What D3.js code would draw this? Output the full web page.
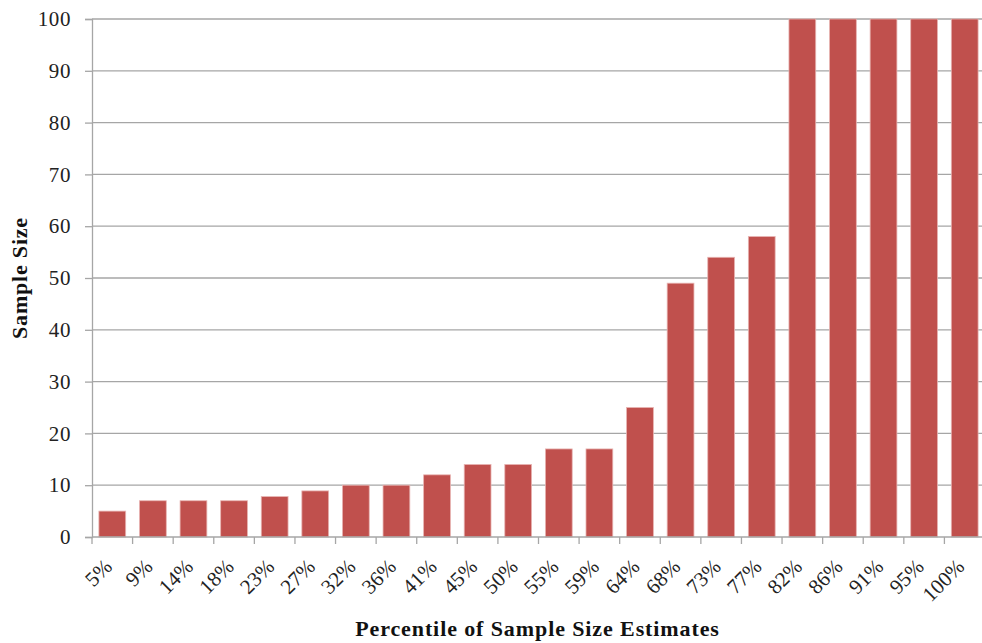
<!DOCTYPE html>
<html><head><meta charset="utf-8">
<script src="https://cdn.jsdelivr.net/npm/d3@7"></script>
<style>
html,body{margin:0;padding:0;background:#fff;}
svg{display:block;}
</style></head>
<body>
<svg id="chart" width="982" height="643"></svg>
<script>
const categories = ["5%","9%","14%","18%","23%","27%","32%","36%","41%","45%","50%","55%","59%","64%","68%","73%","77%","82%","86%","91%","95%","100%"];
const values = [5,7,7,7,7.8,8.9,10,10,12,14,14,17,17,25,49,54,58,100,100,100,100,100];
const yTicks = [0,10,20,30,40,50,60,70,80,90,100];

(function(){
const svg = d3.select("#chart");
const mLeft = 92, mRight = 985, mTop = 19, mBottom = 537;
const font = "'Palatino Linotype','Book Antiqua',Palatino,'Liberation Serif','DejaVu Serif',serif";

const x = d3.scaleBand().domain(categories).range([mLeft, mRight]).paddingInner(0.34).paddingOuter(0.17);
const y = d3.scaleLinear().domain([0,100]).range([mBottom, mTop]);

svg.append("g").selectAll("line").data(yTicks.filter(d=>d>0)).join("line")
  .attr("x1", mLeft).attr("x2", mRight)
  .attr("y1", d=>y(d)).attr("y2", d=>y(d))
  .attr("stroke", "#a6a6a6").attr("stroke-width", 1.3);

svg.append("g").selectAll("rect").data(values).join("rect")
  .attr("x", (d,i)=>x(categories[i]))
  .attr("width", x.bandwidth())
  .attr("y", d=>y(d))
  .attr("height", d=>y(0)-y(d))
  .attr("fill", "#c0504d")
  .attr("stroke", "#e8b4b2").attr("stroke-width", 0.8);

const yAxis = d3.axisLeft(y).tickValues(yTicks).tickSize(7).tickPadding(14);
const gy = svg.append("g").attr("transform", `translate(${mLeft},0)`).call(yAxis);
gy.select(".domain").attr("stroke", "#a6a6a6").attr("stroke-width", 1.3);
gy.selectAll(".tick line").attr("stroke", "#a6a6a6").attr("stroke-width", 1.3);
gy.selectAll(".tick text").attr("font-family", font).attr("font-size", 21)
  .attr("letter-spacing", 0.6).attr("fill", "#222");

const boundaries = d3.range(categories.length + 1).map(i => mLeft + i * x.step());
svg.append("line").attr("x1", mLeft).attr("x2", mRight).attr("y1", mBottom).attr("y2", mBottom)
  .attr("stroke", "#a6a6a6").attr("stroke-width", 1.3);
svg.append("g").selectAll("line").data(boundaries).join("line")
  .attr("x1", d=>d).attr("x2", d=>d).attr("y1", mBottom).attr("y2", mBottom+7)
  .attr("stroke", "#a6a6a6").attr("stroke-width", 1.3);

svg.append("g").selectAll("text").data(categories).join("text")
  .attr("transform", d => `translate(${x(d) + x.bandwidth()/2 + 1},${mBottom + 31}) rotate(-45)`)
  .attr("text-anchor", "end")
  .attr("font-family", font).attr("font-size", 21).attr("fill", "#222")
  .text(d=>d);

svg.append("text")
  .attr("transform", `translate(27,${(mTop+mBottom)/2}) rotate(-90)`)
  .attr("text-anchor", "middle")
  .attr("font-family", font).attr("font-size", 22).attr("font-weight", "bold")
  .attr("letter-spacing", 0.8).attr("fill", "#111")
  .text("Sample Size");
svg.append("text")
  .attr("x", (mLeft+mRight)/2 - 1).attr("y", 636)
  .attr("text-anchor", "middle")
  .attr("font-family", font).attr("font-size", 22).attr("font-weight", "bold")
  .attr("letter-spacing", 0.9).attr("fill", "#111")
  .text("Percentile of Sample Size Estimates");
})();
</script>
</body></html>
